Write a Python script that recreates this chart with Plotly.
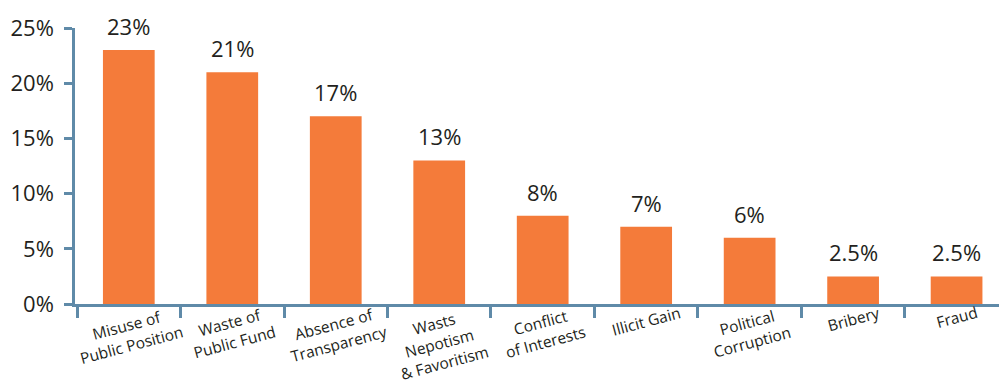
import plotly.graph_objects as go

# Share of reported cases by type of violation (%)
categories = [
    "Misuse of<br>Public Position",
    "Waste of<br>Public Fund",
    "Absence of<br>Transparency",
    "Wasts<br>Nepotism<br>& Favoritism",
    "Conflict<br>of Interests",
    "Illicit Gain",
    "Political<br>Corruption",
    "Bribery",
    "Fraud",
]
values = [23, 21, 17, 13, 8, 7, 6, 2.5, 2.5]
value_labels = ["23%", "21%", "17%", "13%", "8%", "7%", "6%", "2.5%", "2.5%"]
y_ticks = [0, 5, 10, 15, 20, 25]

BAR = "#F47B3A"
AXIS = "#5F8AA8"
TEXT = "#231F20"
FONT = "Open Sans"

fig = go.Figure(
    go.Bar(
        x=categories,
        y=values,
        marker=dict(color=BAR, line=dict(width=0)),
        width=0.5,
        hoverinfo="skip",
    )
)

annotations = []
# value labels above each bar
for cat, v, lab in zip(categories, values, value_labels):
    annotations.append(dict(
        x=cat, y=v, xref="x", yref="y", text=lab, showarrow=False,
        yanchor="bottom", yshift=7,
        font=dict(family=FONT, size=22, color=TEXT),
    ))
# tilted category labels under the axis
for cat in categories:
    annotations.append(dict(
        x=cat, y=0.0, xref="x", yref="paper", text=cat, showarrow=False,
        yanchor="top", xanchor="center", textangle=-15, align="center",
        yshift=4, borderpad=0,
        font=dict(family=FONT, size=15.5, color=TEXT),
    ))

fig.update_layout(
    width=999, height=385,
    margin=dict(l=75, r=0, t=28, b=81),
    paper_bgcolor="white", plot_bgcolor="white",
    showlegend=False,
    annotations=annotations,
    xaxis=dict(
        type="category",
        range=[-0.52, 8.41],
        showticklabels=False,
        ticks="outside", tickson="boundaries", ticklen=11,
        tickwidth=2.5, tickcolor=AXIS,
        showline=True, linewidth=2.5, linecolor=AXIS,
        showgrid=False, zeroline=False, fixedrange=True,
    ),
    yaxis=dict(
        range=[0, 25],
        tickvals=y_ticks,
        ticktext=[f"{t}%" for t in y_ticks],
        ticks="outside", ticklen=8, tickwidth=2.5, tickcolor=AXIS,
        ticklabelstandoff=6,
        showline=True, linewidth=2.5, linecolor=AXIS,
        showgrid=False, zeroline=False, fixedrange=True,
        tickfont=dict(family=FONT, size=22, color=TEXT),
    ),
)

fig.write_html("out.html")
